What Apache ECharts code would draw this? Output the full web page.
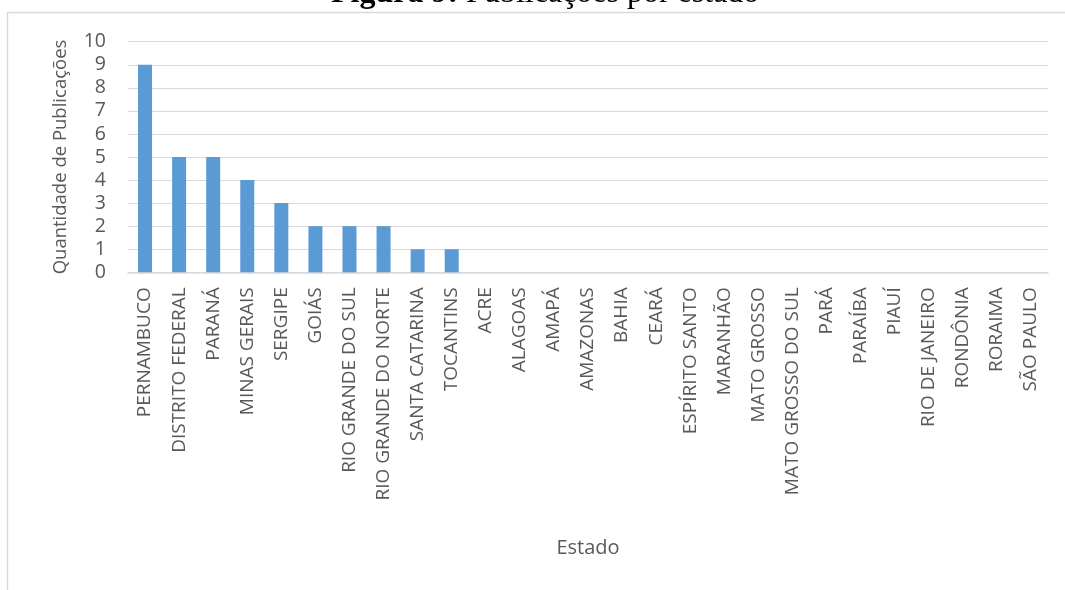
<!DOCTYPE html>
<html>
<head>
<meta charset="utf-8">
<script src="https://cdn.jsdelivr.net/npm/echarts@6/dist/echarts.min.js"></script>
<style>
  html, body { margin: 0; padding: 0; background: #ffffff; }
  #chart { width: 1065px; height: 590px; }
</style>
</head>
<body>
<div id="chart"></div>
<script>
// Publicações por estado
const estados = [
  'PERNAMBUCO', 'DISTRITO FEDERAL', 'PARANÁ', 'MINAS GERAIS', 'SERGIPE', 'GOIÁS',
  'RIO GRANDE DO SUL', 'RIO GRANDE DO NORTE', 'SANTA CATARINA', 'TOCANTINS',
  'ACRE', 'ALAGOAS', 'AMAPÁ', 'AMAZONAS', 'BAHIA', 'CEARÁ', 'ESPÍRITO SANTO',
  'MARANHÃO', 'MATO GROSSO', 'MATO GROSSO DO SUL', 'PARÁ', 'PARAÍBA', 'PIAUÍ',
  'RIO DE JANEIRO', 'RONDÔNIA', 'RORAIMA', 'SÃO PAULO'
];
const publicacoes = [9, 5, 5, 4, 3, 2, 2, 2, 1, 1, 0, 0, 0, 0, 0, 0, 0, 0, 0, 0, 0, 0, 0, 0, 0, 0, 0];

const tituloNegrito = 'Figura 9:';
const tituloTexto = ' Publicações por estado';
const nomeEixoY = 'Quantidade de Publicações';
const nomeEixoX = 'Estado';

const fonte = '"Open Sans", "Noto Sans", sans-serif';
const cinzaTexto = '#595959';

const chart = echarts.init(document.getElementById('chart'), null, { renderer: 'canvas' });
chart.setOption({
  backgroundColor: '#ffffff',
  animation: false,
  graphic: [
    {
      type: 'rect',
      silent: true,
      shape: { x: 7.5, y: 12.5, width: 1200, height: 800 },
      style: { fill: 'none', stroke: '#D9D9D9', lineWidth: 1.5 }
    },
    {
      type: 'text',
      silent: true,
      x: 331,
      y: 10,
      style: {
        text: '{b|' + tituloNegrito + '}{n|' + tituloTexto + '}',
        verticalAlign: 'bottom',
        rich: {
          b: { fontFamily: '"Liberation Serif", serif', fontWeight: 'bold', fontSize: 32, fill: '#000' },
          n: { fontFamily: '"Liberation Serif", serif', fontSize: 32, fill: '#000' }
        }
      }
    }
  ],
  grid: { left: 128, right: 17, top: 41.7, bottom: 317.7, containLabel: false },
  xAxis: {
    type: 'category',
    data: estados,
    name: nomeEixoX,
    nameLocation: 'middle',
    nameGap: 266,
    nameTextStyle: { fontFamily: fonte, fontSize: 20, color: cinzaTexto },
    axisLine: { lineStyle: { color: '#D9D9D9', width: 1.5 } },
    axisTick: { show: false },
    axisLabel: {
      interval: 0, rotate: 90, margin: 15,
      fontFamily: fonte, fontSize: 19, color: cinzaTexto
    }
  },
  yAxis: {
    type: 'value',
    min: 0, max: 10, interval: 1,
    name: nomeEixoY,
    nameLocation: 'middle',
    nameGap: 58,
    nameTextStyle: { fontFamily: fonte, fontSize: 18.5, color: cinzaTexto },
    axisLine: { show: false },
    axisTick: { show: false },
    splitLine: { lineStyle: { color: '#D9D9D9', width: 1 } },
    axisLabel: { margin: 22, fontFamily: fonte, fontSize: 19.5, color: cinzaTexto }
  },
  series: [{
    type: 'bar',
    data: publicacoes,
    barWidth: 14,
    itemStyle: { color: '#5B9BD5' }
  }]
});
</script>
</body>
</html>
